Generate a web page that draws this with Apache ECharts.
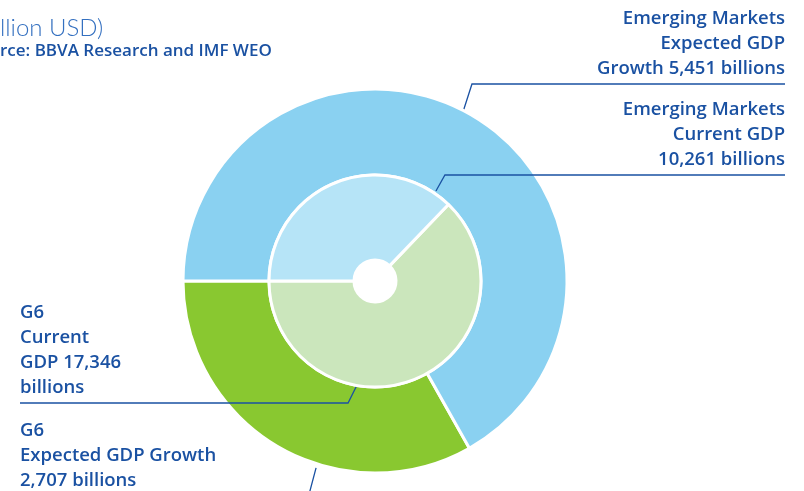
<!DOCTYPE html>
<html>
<head>
<meta charset="utf-8">
<script src="https://cdn.jsdelivr.net/npm/echarts@6/dist/echarts.min.js"></script>
<style>
html,body{margin:0;padding:0;background:#fff;}
#chart{width:804px;height:491px;}
</style>
</head>
<body>
<div id="chart"></div>
<script>
// ---- data ----
const categories = ['G6', 'Emerging Markets'];
const currentGDP = [17346, 10261];        // billion USD (inner ring)
const expectedGrowth = [2707, 5451];      // billion USD (outer ring)
const titleText = 'llion USD)';
const sourceText = 'rce: BBVA Research and IMF WEO';

// ---- styling ----
const TXT = '#1a51a2';
const FONT = '"Open Sans"';
const innerColors = ['#cbe6bc', '#b6e4f7'];
const outerColors = ['#89c830', '#8ad1f1'];
const CX = 375, CY = 281;

function fmt(v) { return v.toLocaleString('en-US'); }

const innerLabels = [
  v => 'G6\nCurrent\nGDP ' + fmt(v) + '\nbillions',
  v => 'Emerging Markets\nCurrent GDP\n' + fmt(v) + ' billions'
];
const outerLabels = [
  v => 'G6\nExpected GDP Growth\n' + fmt(v) + ' billions',
  v => 'Emerging Markets\nExpected GDP\nGrowth ' + fmt(v) + ' billions'
];

// leader-line layout: [seriesIndex][dataIndex]
const guides = [
  [
    {ang: 189.8, r: 105.5, bx: -9, ly: 403, ex: 20, tx: 20, ty: 400, align: 'left'},
    {ang: 34.1, r: 108.7, bx: 9, ly: 175, ex: 785, tx: 785, ty: 172, align: 'right'}
  ],
  [
    {ang: 197.5, r: 196, bx: -8, ly: 498, ex: 20, tx: 20, ty: 493, align: 'left'},
    {ang: 27.5, r: 190.5, bx: 9, ly: 84, ex: 785, tx: 785, ty: 81, align: 'right'}
  ]
];

function layoutFn(p) {
  const g = guides[p.seriesIndex][p.dataIndex];
  const a = g.ang * Math.PI / 180;
  const x0 = CX + g.r * Math.sin(a), y0 = CY - g.r * Math.cos(a);
  return {
    x: g.tx, y: g.ty, align: g.align, verticalAlign: 'bottom',
    labelLinePoints: [[x0, y0], [x0 + g.bx, g.ly], [g.ex, g.ly]]
  };
}

function build(values, colors, labels) {
  return categories.map((name, i) => ({
    name: name,
    value: values[i],
    itemStyle: {color: colors[i]},
    label: {formatter: () => labels[i](values[i])}
  }));
}

const common = {
  type: 'pie',
  center: [CX, CY],
  startAngle: 180,
  clockwise: false,
  avoidLabelOverlap: false,
  silent: true,
  itemStyle: {borderColor: '#fff', borderWidth: 3},
  label: {
    show: true, position: 'outside', color: TXT,
    fontFamily: FONT, fontWeight: 600, fontSize: 18.5, lineHeight: 25
  },
  labelLine: {show: true, lineStyle: {color: TXT, width: 1.3}},
  labelLayout: layoutFn,
  emphasis: {disabled: true}
};

const chart = echarts.init(document.getElementById('chart'), null, {renderer: 'canvas'});
chart.setOption({
  animation: false,
  graphic: [
    {type: 'text', x: 0, y: 28, style: {text: titleText, fill: '#3470c0', font: '300 24px Lato', textVerticalAlign: 'middle'}},
    {type: 'text', x: 0, y: 51, style: {text: sourceText, fill: TXT, font: '600 17px "Open Sans"', textVerticalAlign: 'middle'}}
  ],
  series: [
    Object.assign({}, common, {
      name: 'Current GDP',
      z: 4,
      radius: [21, 106],
      data: build(currentGDP, innerColors, innerLabels)
    }),
    Object.assign({}, common, {
      name: 'Expected GDP Growth',
      z: 2,
      radius: [106, 192],
      data: build(expectedGrowth, outerColors, outerLabels)
    })
  ]
});
</script>
</body>
</html>
